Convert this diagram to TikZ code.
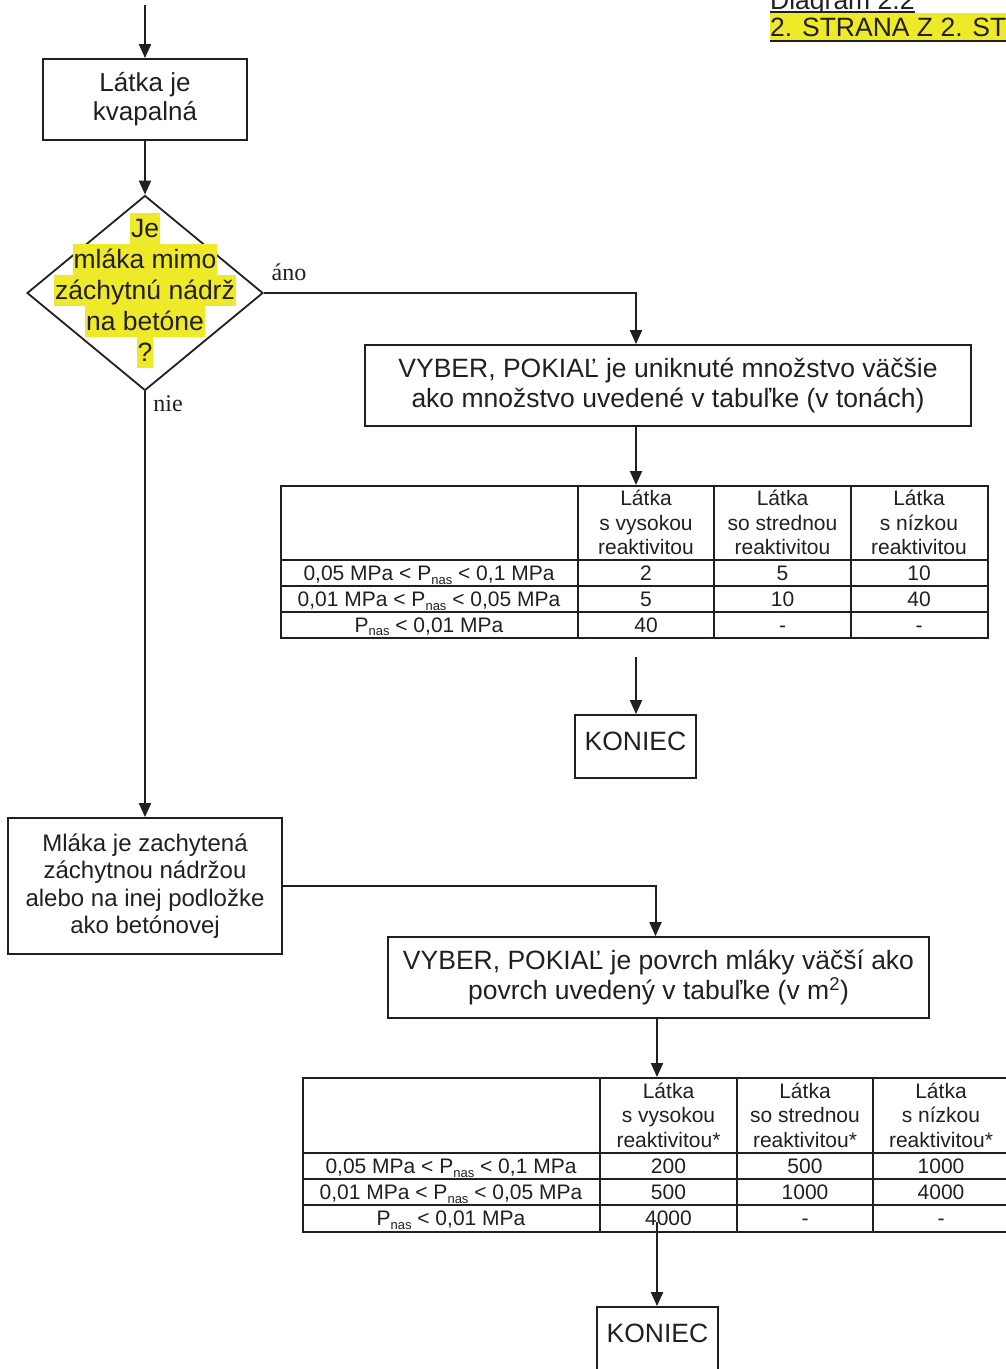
\documentclass[tikz,border=0pt]{standalone}
\usepackage{fontspec}
\setmainfont{Liberation Sans}
\newfontfamily\serifface{Liberation Serif}
\usetikzlibrary{arrows.meta,shapes.geometric,calc}
\definecolor{ink}{RGB}{35,31,32}
\definecolor{yel}{RGB}{238,234,42}
\newcommand\pnas{P\raisebox{-3.5pt}{\fontsize{13}{13}\selectfont nas}}
\begin{document}
\begin{tikzpicture}[x=1pt,y=-1pt,
  every node/.style={text=ink},
  box/.style={draw=ink, line width=1.8pt, inner sep=0pt, align=center,
    font=\fontsize{26.5}{30}\selectfont},
  endbox/.style={box, minimum width=121pt, minimum height=63pt, text depth=10pt},
  hl/.style={fill=yel, inner xsep=1pt, inner ysep=0pt, text height=24.5pt,
    text depth=6.5pt, anchor=base, font=\fontsize{26.5}{30}\selectfont},
  lbl/.style={font=\serifface\fontsize{24}{26}\selectfont},
  arr/.style={draw=ink, line width=2pt, -{Triangle[length=14pt,width=12pt]}},
  tframe/.style={draw=ink, line width=1.8pt, inner sep=0pt, anchor=north west},
  tl/.style={draw=ink, line width=1.6pt},
  head/.style={align=center, inner sep=0pt, font=\fontsize{21}{24.5}\selectfont},
  cell/.style={inner sep=0pt, text height=16.5pt, text depth=1.5pt,
    font=\fontsize{21}{24.5}\selectfont},
  title/.style={anchor=base west, inner sep=0pt, font=\fontsize{26.5}{30}\selectfont}
]
\useasboundingbox (0,0) rectangle (1005,1369);

% page header
\node[title] (dg) at (770,9) {Diagram 2.2};
\draw[ink, line width=1.8pt] ($(dg.base west)+(0,3)$) -- ($(dg.base east)+(0,3)$);
\node[title, fill=yel, text height=23pt, text depth=6pt] (pg) at (770,36) {2. STRANA Z 2. STRÁN};
\draw[ink, line width=2pt] ($(pg.base west)+(0,5)$) -- ($(pg.base east)+(0,5)$);

% upper branch
\coordinate (top) at (145,5);
\node[box, minimum width=204pt, minimum height=81pt, font=\fontsize{26}{29}\selectfont] (b1) at (145,99.5) {Látka je\\kvapalná};
\node[draw=ink, line width=1.8pt, diamond, inner sep=0pt, minimum width=236pt, minimum height=195pt] (dia) at (145,293) {};
\node[hl] (hl1) at (145,237) {Je};
\node[hl] (hl2) at (145,268) {mláka mimo};
\node[hl] (hl3) at (145,299) {záchytnú nádrž};
\node[hl] (hl4) at (145,330) {na betóne};
\node[hl] (hl5) at (145,361) {?};
\node[lbl] (ano) at (289,272) {áno};
\node[lbl] (nie) at (168,404) {nie};

\node[box, minimum width=606pt, minimum height=81pt] (v1) at (668,385.5)
  {VYBER, POKIAĽ je uniknuté množstvo väčšie\\ako množstvo uvedené v tabuľke (v tonách)};

% table of quantities (t)
\begin{scope}[shift={(280,485)}, name prefix=ta-]
  \node[tframe, minimum width=707pt, minimum height=152pt] (frame) at (0,0) {};
  \draw[tl] (298,0) -- (298,152) (434,0) -- (434,152) (571,0) -- (571,152)
            (0,75) -- (707,75) (0,101) -- (707,101) (0,127) -- (707,127);
  \node[head] (h1) at (366,37.5) {Látka\\s vysokou\\reaktivitou};
  \node[head] (h2) at (502.5,37.5) {Látka\\so strednou\\reaktivitou};
  \node[head] (h3) at (639,37.5) {Látka\\s nízkou\\reaktivitou};
  \node[cell] (r1) at (149,88) {0,05 MPa < \pnas{} < 0,1 MPa};
  \node[cell] (r2) at (149,114) {0,01 MPa < \pnas{} < 0,05 MPa};
  \node[cell] (r3) at (149,139.5) {\pnas{} < 0,01 MPa};
  \node[cell] (c11) at (366,88) {2};
  \node[cell] (c12) at (502.5,88) {5};
  \node[cell] (c13) at (639,88) {10};
  \node[cell] (c21) at (366,114) {5};
  \node[cell] (c22) at (502.5,114) {10};
  \node[cell] (c23) at (639,114) {40};
  \node[cell] (c31) at (366,139.5) {40};
  \node[cell] (c32) at (502.5,139.5) {-};
  \node[cell] (c33) at (639,139.5) {-};
\end{scope}

\coordinate (s1) at (636,657);
\node[endbox] (k1) at (635.5,746.5) {KONIEC};

% lower branch
\node[box, minimum width=274pt, minimum height=136pt, font=\fontsize{24}{27.3}\selectfont] (m) at (145,886)
  {Mláka je zachytená\\záchytnou nádržou\\alebo na inej podložke\\ako betónovej};
\node[box, minimum width=541pt, minimum height=81pt] (v2) at (658.5,977.5)
  {VYBER, POKIAĽ je povrch mláky väčší ako\\povrch uvedený v tabuľke (v m\textsuperscript{2})};

% table of areas (m2)
\begin{scope}[shift={(302,1077)}, name prefix=tb-]
  \node[tframe, minimum width=707pt, minimum height=154pt] (frame) at (0,0) {};
  \draw[tl] (298,0) -- (298,154) (435,0) -- (435,154) (571,0) -- (571,154)
            (0,76) -- (707,76) (0,102) -- (707,102) (0,128) -- (707,128);
  \node[head] (h1) at (366.5,38) {Látka\\s vysokou\\reaktivitou*};
  \node[head] (h2) at (503,38) {Látka\\so strednou\\reaktivitou*};
  \node[head] (h3) at (639,38) {Látka\\s nízkou\\reaktivitou*};
  \node[cell] (r1) at (149,89) {0,05 MPa < \pnas{} < 0,1 MPa};
  \node[cell] (r2) at (149,115) {0,01 MPa < \pnas{} < 0,05 MPa};
  \node[cell] (r3) at (149,141) {\pnas{} < 0,01 MPa};
  \node[cell] (c11) at (366.5,89) {200};
  \node[cell] (c12) at (503,89) {500};
  \node[cell] (c13) at (639,89) {1000};
  \node[cell] (c21) at (366.5,115) {500};
  \node[cell] (c22) at (503,115) {1000};
  \node[cell] (c23) at (639,115) {4000};
  \node[cell] (c31) at (366.5,141) {4000};
  \node[cell] (c32) at (503,141) {-};
  \node[cell] (c33) at (639,141) {-};
\end{scope}

\coordinate (s2) at (657,1222);
\node[endbox] (k2) at (657.5,1338.5) {KONIEC};

% connectors
\draw[arr] (top) -- (b1.north);
\draw[arr] (b1.south) -- (dia.north);
\draw[arr] (dia.east) -| ([xshift=-32pt]v1.north);
\draw[arr] ([xshift=-32pt]v1.south) -- ([xshift=-32pt]v1.south |- ta-frame.north);
\draw[arr] (s1) -- (s1 |- k1.north);
\draw[arr] (dia.south) -- (m.north);
\draw[arr] (m.east) -| ([xshift=-3pt]v2.north);
\draw[arr] ([xshift=-1.5pt]v2.south) -- ([xshift=-1.5pt]v2.south |- tb-frame.north);
\draw[arr] (s2) -- (s2 |- k2.north);
\end{tikzpicture}
\end{document}
